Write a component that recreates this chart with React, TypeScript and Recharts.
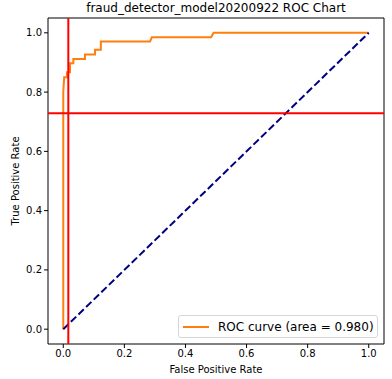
import {
  LineChart,
  Line,
  XAxis,
  YAxis,
  ReferenceLine,
  ReferenceArea,
  Legend,
} from 'recharts'

const rocFpr = [0, 0, 0.003, 0.012, 0.012, 0.022, 0.022, 0.033, 0.033, 0.071, 0.071, 0.104, 0.104, 0.123, 0.123, 0.284, 0.29, 0.484, 0.492, 1]
const rocTpr = [0, 0.8, 0.85, 0.85, 0.867, 0.867, 0.897, 0.897, 0.912, 0.912, 0.927, 0.927, 0.943, 0.943, 0.971, 0.971, 0.985, 0.985, 1, 1]
const diagFpr = [0, 1]
const diagTpr = [0, 1]
const xTicks = [0, 0.2, 0.4, 0.6, 0.8, 1]
const yTicks = [0, 0.2, 0.4, 0.6, 0.8, 1]
const thresholdFpr = 0.0165
const thresholdTpr = 0.729
const aucLabel = 'ROC curve (area = 0.980)'

const rocData = rocFpr.map((x, i) => ({ x, y: rocTpr[i] }))
const diagData = diagFpr.map((x, i) => ({ x, y: diagTpr[i] }))

const FONT = '"DejaVu Sans", sans-serif'
const fmt = (v: number) => v.toFixed(1)

function LegendBox() {
  return (
    <div
      style={{
        width: 198,
        height: 21,
        border: '1px solid #d6d6d6',
        borderRadius: 3,
        background: 'rgba(255,255,255,0.8)',
        display: 'flex',
        alignItems: 'center',
        fontFamily: FONT,
        fontSize: 12,
        color: '#000',
        boxSizing: 'content-box',
      }}
    >
      <div style={{ width: 26, height: 2, background: '#ff7f0e', marginLeft: 4, marginRight: 9 }} />
      <span>{aucLabel}</span>
    </div>
  )
}

export default function App() {
  return (
    <div style={{ position: 'absolute', left: 0, top: 0, width: 392, height: 379, background: '#fff' }}>
      <div
        style={{
          position: 'absolute',
          left: 48,
          width: 336,
          top: 1,
          textAlign: 'center',
          fontFamily: FONT,
          fontSize: 12,
          color: '#000',
          whiteSpace: 'nowrap',
        }}
      >
        fraud_detector_model20200922 ROC Chart
      </div>
      <LineChart width={392} height={379} margin={{ top: 18, right: 8, left: 0, bottom: 0 }}>
        <XAxis
          type="number"
          dataKey="x"
          domain={[-0.05, 1.05]}
          ticks={xTicks}
          tickFormatter={fmt}
          height={35}
          tickSize={4}
          tickMargin={2}
          axisLine={false}
          stroke="#000"
          tick={{ fontSize: 10, fill: '#000', fontFamily: FONT }}
          allowDataOverflow
          label={{
            content: () => (
              <text x={216} y={369} textAnchor="middle" dominantBaseline="central" fontSize={10} fontFamily={FONT} fill="#000">
                False Positive Rate
              </text>
            ),
          }}
        />
        <YAxis
          type="number"
          dataKey="y"
          domain={[-0.05, 1.05]}
          ticks={yTicks}
          tickFormatter={fmt}
          width={48}
          tickSize={4}
          tickMargin={2}
          axisLine={false}
          stroke="#000"
          tick={{ fontSize: 10, fill: '#000', fontFamily: FONT }}
          allowDataOverflow
          label={{
            content: () => (
              <text
                x={15}
                y={181}
                transform="rotate(-90 15 181)"
                textAnchor="middle"
                dominantBaseline="central"
                fontSize={10}
                fontFamily={FONT}
                fill="#000"
              >
                True Positive Rate
              </text>
            ),
          }}
        />
        <ReferenceArea x1={-0.05} x2={1.05} y1={-0.05} y2={1.05} fill="none" stroke="#000" strokeWidth={1} fillOpacity={0} />
        <Line
          data={rocData}
          dataKey="y"
          type="linear"
          stroke="#ff7f0e"
          strokeWidth={2}
          dot={false}
          isAnimationActive={false}
        />
        <Line
          data={diagData}
          dataKey="y"
          type="linear"
          stroke="#000080"
          strokeWidth={2}
          strokeDasharray="7.4 3.2"
          dot={false}
          isAnimationActive={false}
        />
        <ReferenceLine x={thresholdFpr} stroke="#ff0000" strokeWidth={2} />
        <ReferenceLine y={thresholdTpr} stroke="#ff0000" strokeWidth={2} />
        <Legend
          layout="horizontal"
          verticalAlign="middle"
          align="center"
          content={() => <LegendBox />}
          wrapperStyle={{ position: 'absolute', left: 178, top: 315, width: 200, height: 23 }}
        />
      </LineChart>
    </div>
  )
}
